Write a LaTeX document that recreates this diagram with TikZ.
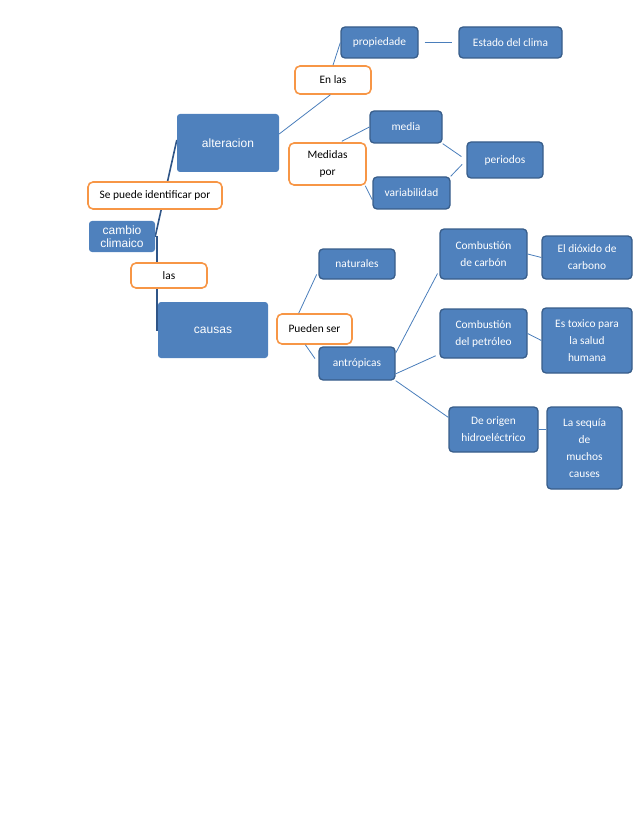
\documentclass[tikz,border=0pt]{standalone}
\usepackage{fontspec}
\setmainfont{Carlito}
\newfontfamily\arialfont{Liberation Sans}
\usetikzlibrary{backgrounds}
\definecolor{boxblue}{HTML}{4F81BD}
\definecolor{boxedge}{HTML}{385D8A}
\definecolor{tagorange}{HTML}{F79646}
\definecolor{linkblue}{HTML}{4A7EBB}
\definecolor{trunkblue}{HTML}{2F5587}
\begin{document}
\begin{tikzpicture}[x=1pt,y=-1pt,
  idea/.style={rectangle,rounded corners=4pt,fill=boxblue,draw=boxedge,line width=1.3pt,text=white,align=center,font=\fontsize{11.4}{17}\selectfont,inner sep=0pt},
  topic/.style={rectangle,rounded corners=3pt,fill=boxblue,text=white,align=center,font=\arialfont\fontsize{12}{13}\selectfont,inner sep=0pt},
  tag/.style={rectangle,rounded corners=5pt,fill=white,draw=tagorange,line width=1.6pt,align=center,font=\fontsize{11.4}{17}\selectfont,inner sep=0pt},
  link/.style={draw=linkblue,line width=0.8pt},
  trunk/.style={draw=trunkblue,line width=1.6pt}]
 \useasboundingbox (0,0) rectangle (638,826);
 \node[topic,minimum width=102pt,minimum height=58pt] (alteracion) at (228,143) {alteracion};
 \node[topic,minimum width=110pt,minimum height=56pt] (causas) at (213,330) {causas};
 \node[topic,minimum width=66pt,minimum height=31pt] (cambio) at (122,236.5) {cambio\\climaico};
 \node[tag,minimum width=134pt,minimum height=27pt] (sepuede) at (155,195.5) {Se puede identificar por};
 \node[tag,minimum width=76pt,minimum height=25pt] (las) at (169,275.5) {las};
 \node[tag,minimum width=76pt,minimum height=28pt] (enlas) at (333,80) {En las};
 \node[tag,minimum width=77pt,minimum height=42pt] (medidas) at (327.5,164) {Medidas\\por};
 \node[tag,minimum width=75pt,minimum height=30pt] (pueden) at (314.5,329) {Pueden ser};
 \node[idea,minimum width=77pt,minimum height=31pt] (propiedade) at (379.5,42.5) {propiedade};
 \node[idea,minimum width=103pt,minimum height=31pt] (estado) at (510.5,42.5) {Estado del clima};
 \node[idea,minimum width=72pt,minimum height=32pt] (media) at (406,127) {media};
 \node[idea,minimum width=76pt,minimum height=36pt] (periodos) at (505,160) {periodos};
 \node[idea,minimum width=77pt,minimum height=32pt] (variabilidad) at (411.5,193) {variabilidad};
 \node[idea,minimum width=76pt,minimum height=30pt] (naturales) at (357,264) {naturales};
 \node[idea,minimum width=76pt,minimum height=33pt] (antropicas) at (357,363.5) {antrópicas};
 \node[idea,minimum width=87pt,minimum height=50pt] (carbon) at (483.5,254) {Combustión\\de carbón};
 \node[idea,minimum width=90pt,minimum height=43pt] (dioxido) at (587,257.5) {El dióxido de\\carbono};
 \node[idea,minimum width=87pt,minimum height=49pt] (petroleo) at (483.5,333.5) {Combustión\\del petróleo};
 \node[idea,minimum width=90pt,minimum height=65pt] (toxico) at (587,340.5) {Es toxico para\\la salud\\humana};
 \node[idea,minimum width=89pt,minimum height=45pt] (origen) at (493.5,429.5) {De origen\\hidroeléctrico};
 \node[idea,minimum width=75pt,minimum height=82pt] (sequia) at (584.5,448) {La sequía\\de\\muchos\\causes};
 \begin{scope}[on background layer]
 \draw[trunk](cambio.east) -- ([yshift=3pt]alteracion.west);
 \draw[trunk](cambio.east) -- ++(2,0) |- (causas.west);
 \end{scope}
 \draw[link](alteracion.10) -- (enlas.260);
 \draw[link](enlas.north) -- (propiedade.west);
 \draw[link,shorten <=6pt,shorten >=6pt](propiedade.east) -- (estado.west);
 \draw[link,shorten <=2pt](medidas.60) -- (media.west);
 \draw[link](medidas.-30) -- (variabilidad.190);
 \draw[link,shorten >=6pt](media.south east) -- (periodos.west);
 \draw[link,shorten >=6pt](variabilidad.north east) -- (periodos.west);
 \draw[link,shorten >=4pt](pueden.135) -- (naturales.190);
 \draw[link,shorten >=6pt](pueden.240) -- (antropicas.west);
 \draw[link,shorten >=4pt](antropicas.15) -- (carbon.200);
 \draw[link,shorten >=4pt](antropicas.-15) -- (petroleo.205);
 \draw[link](antropicas.south east) -- (origen.165);
 \draw[link](carbon.east) -- (dioxido.west);
 \draw[link](petroleo.east) -- (toxico.west);
 \draw[link](origen.east) -- (origen.east -| sequia.west);
\end{tikzpicture}
\end{document}
